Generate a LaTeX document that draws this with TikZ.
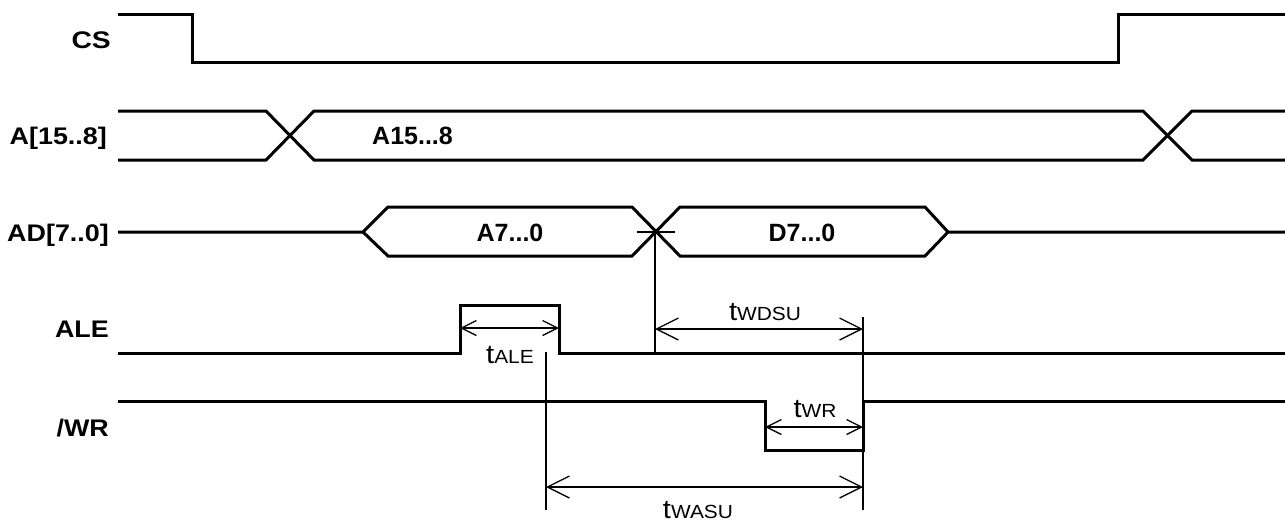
\documentclass[tikz,border=0pt]{standalone}
\usepackage{fontspec}
\setmainfont{Liberation Sans}
\usetikzlibrary{arrows.meta}
\newcommand{\tlab}[1]{\scalebox{1.1}[1]{{\fontsize{26.5}{26.5}\selectfont t}{\fontsize{19}{19}\selectfont #1}}}
\newcommand{\slab}[1]{\scalebox{1.12}[1]{\fontsize{24}{24}\selectfont\bfseries #1}}
\tikzset{
  sig/.style={line width=3pt, line join=miter},
  thin/.style={line width=1.2pt},
  dimS/.style={line width=1.3pt, {Straight Barb[length=15pt,width=15pt]}-{Straight Barb[length=15pt,width=15pt]}},
  dimL/.style={line width=1.3pt, {Straight Barb[length=22pt,width=22pt]}-{Straight Barb[length=22pt,width=22pt]}},
  siglabel/.style={anchor=base east, inner sep=0pt},
  buslabel/.style={font=\fontsize{25}{25}\selectfont\bfseries, inner sep=0pt},
  tlabel/.style={anchor=base, inner sep=0pt}
}
\begin{document}
\begin{tikzpicture}[x=1pt,y=-1pt]
\useasboundingbox (0,0) rectangle (1285,523);
% signal names
\node[siglabel] (lcs) at (111,48) {\scalebox{1.05}[1]{\slab{CS}}};
\node[siglabel] (la) at (107,144) {\slab{A[15..8]}};
\node[siglabel] (lad) at (109,241) {\slab{AD[7..0]}};
\node[siglabel] (lale) at (109,337) {\slab{ALE}};
\node[siglabel] (lwr) at (109,436) {\slab{/WR}};
% CS
\draw[sig] (118,14) -- (192,14) -- (192,62) -- (1118,62) -- (1118,14) -- (1285,14);
% A[15..8]
\draw[sig] (118,111) -- (266,111) -- (314,160) -- (1143,160) -- (1192,111) -- (1285,111);
\draw[sig] (118,160) -- (266,160) -- (314,111) -- (1143,111) -- (1192,160) -- (1285,160);
\node[buslabel, anchor=base west] (a158) at (372,144) {A15...8};
% AD[7..0]
\draw[sig] (118,232) -- (363,232) -- (388,207) -- (632,207) -- (680,256) -- (925,256) -- (948,232) -- (1285,232);
\draw[sig] (363,232) -- (388,256) -- (632,256) -- (680,207) -- (925,207) -- (948,232);
\node[buslabel, anchor=base] (a70) at (510,241) {A7...0};
\node[buslabel, anchor=base] (d70) at (802,241) {D7...0};
\coordinate (x) at (655,232);
\draw[thin] (637,232) -- (675,232);
% ALE
\draw[sig] (118,353) -- (460,353) -- (460,305) -- (559,305) -- (559,353) -- (1285,353);
% /WR
\draw[sig] (118,401) -- (765,401) -- (765,450) -- (863,450) -- (863,401) -- (1285,401);
% reference lines
\coordinate (xb) at (655,353);
\draw[thin] (x) -- (xb);
\coordinate (wa1) at (546,352);
\coordinate (wa2) at (546,510);
\draw[thin] (wa1) -- (wa2);
\coordinate (wd1) at (863,317);
\coordinate (wd2) at (863,510);
\draw[thin] (wd1) -- (wd2);
% dimension arrows
\coordinate (ale1) at (460,328); \coordinate (ale2) at (559,328);
\draw[dimS] (ale1) -- (ale2);
\coordinate (wds1) at (655,329); \coordinate (wds2) at (863,329);
\draw[dimL] (wds1) -- (wds2);
\coordinate (wr1) at (765,427); \coordinate (wr2) at (863,427);
\draw[dimS] (wr1) -- (wr2);
\coordinate (was1) at (546,487); \coordinate (was2) at (863,487);
\draw[dimL] (was1) -- (was2);
% timing labels
\node[tlabel] (tale) at (510,363) {\tlab{ALE}};
\node[tlabel] (twdsu) at (765,320) {\tlab{WDSU}};
\node[tlabel] (twr) at (815,417) {\tlab{WR}};
\node[tlabel] (twasu) at (698,518) {\tlab{WASU}};
\end{tikzpicture}
\end{document}
